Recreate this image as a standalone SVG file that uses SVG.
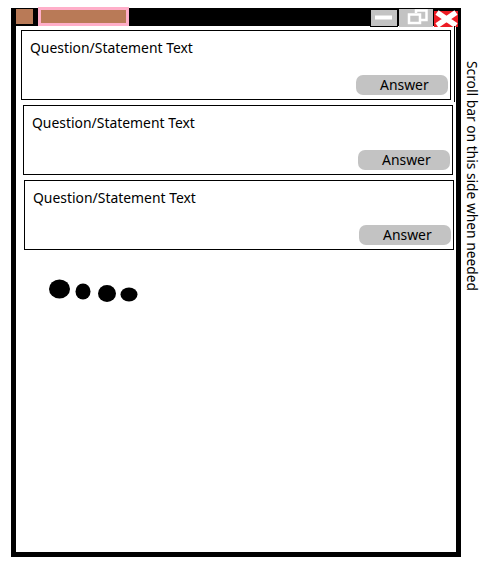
<svg xmlns="http://www.w3.org/2000/svg" width="482" height="574" viewBox="0 0 482 574">
<style>
text{font-family:"Noto Sans","Open Sans",sans-serif;font-size:13.920px;fill:#000}
#note text{font-size:13.800px}
.card{fill:#fff;stroke:#000;stroke-width:1}
.btn{fill:#c3c3c3}
</style>
<rect width="482" height="574" fill="#fff"/>
<g id="window">
<rect x="13.500" y="10.500" width="445" height="544" fill="#fff" stroke="#000" stroke-width="5"/>
<rect x="11" y="8" width="450" height="18" fill="#000"/>
</g>
<g id="titlebar">
<rect x="16" y="9" width="17" height="15" fill="#b97a57"/>
<rect x="39.500" y="8.500" width="88" height="16" fill="#b97a57" stroke="#ffaec9" stroke-width="3"/>
<rect x="370.500" y="9.500" width="27" height="17" fill="#c3c3c3" stroke="#000" stroke-width="1"/>
<rect x="375" y="15.500" width="17" height="4" fill="#fff"/>
<rect x="399" y="9" width="34" height="18" fill="#c3c3c3"/>
<path d="M416 13V10.500H426.500V20H420M409 14.500H420V23H409Z" fill="none" stroke="#fff" stroke-width="2.500"/>
<rect x="434" y="11" width="24" height="16" fill="#ed1c24"/>
<path d="M437 12.500L456 25.500M456 12.500L437 25.500" stroke="#fff" stroke-width="5.500" fill="none"/>
</g>
<line x1="454.500" y1="26" x2="454.500" y2="102" stroke="#000"/>
<g id="card1">
<rect class="card" x="21.500" y="30.500" width="429" height="69"/>
<text x="30" y="53">Question/Statement Text</text>
<rect class="btn" x="356" y="75" width="92" height="20" rx="7"/>
<text x="380" y="90">Answer</text>
</g>
<g id="card2">
<rect class="card" x="23.500" y="105.500" width="429" height="69"/>
<text x="32" y="128">Question/Statement Text</text>
<rect class="btn" x="358" y="150" width="92" height="20" rx="7"/>
<text x="382" y="165">Answer</text>
</g>
<g id="card3">
<rect class="card" x="24.500" y="180.500" width="429" height="69"/>
<text x="33" y="203">Question/Statement Text</text>
<rect class="btn" x="359" y="225" width="92" height="20" rx="7"/>
<text x="383" y="240">Answer</text>
</g>
<g id="ellipsis">
<ellipse cx="59.500" cy="289" rx="10.500" ry="9.500"/>
<ellipse cx="83" cy="291.500" rx="7.500" ry="8"/>
<ellipse cx="107" cy="293.500" rx="9" ry="8.500"/>
<ellipse cx="129" cy="294.500" rx="8.500" ry="7"/>
</g>
<g id="note">
<text transform="translate(467 61) rotate(90)">Scroll bar on this side when needed</text>
</g>
</svg>
